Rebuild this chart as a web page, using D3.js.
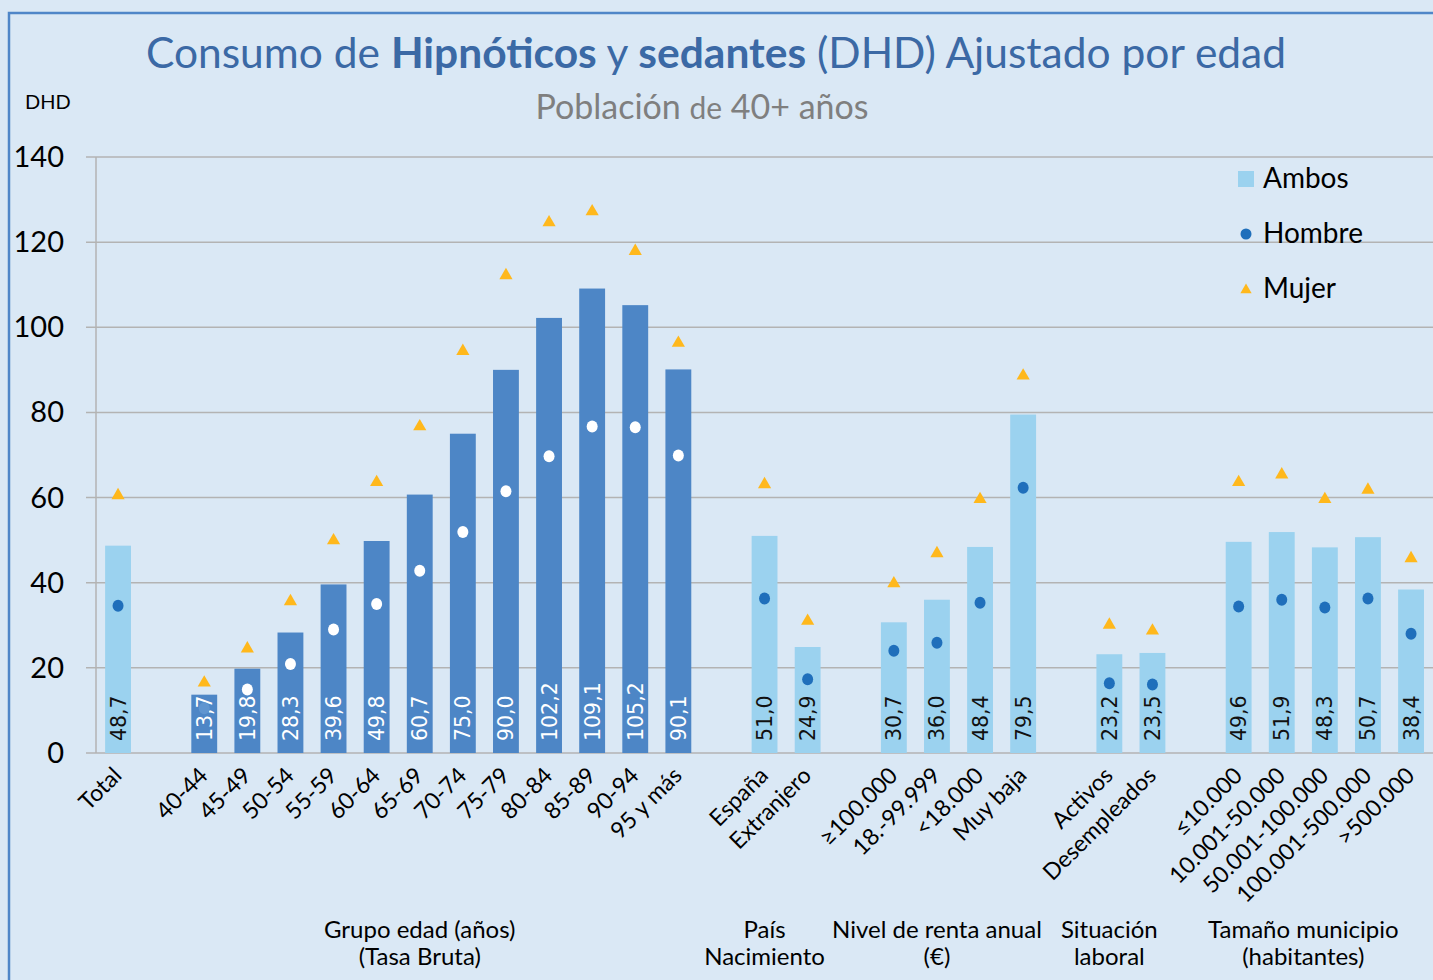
<!DOCTYPE html>
<html>
<head>
<meta charset="utf-8">
<script src="https://cdn.jsdelivr.net/npm/d3@7"></script>
<style>
  body { margin: 0; background: #dae8f5; }
  svg { display: block; font-family: Lato, "Open Sans", sans-serif; }
</style>
</head>
<body>
<svg id="chart" width="1433" height="980"></svg>
<script>
// categories, "" = empty slot between groups
var categories = ["Total", "",
  "40-44", "45-49", "50-54", "55-59", "60-64", "65-69", "70-74", "75-79", "80-84", "85-89", "90-94", "95 y más", "",
  "España", "Extranjero", "",
  "≥100.000", "18.-99.999", "<18.000", "Muy baja", "",
  "Activos", "Desempleados", "",
  "≤10.000", "10.001-50.000", "50.001-100.000", "100.001-500.000", ">500.000"];

var ambos = [48.7, null,
  13.7, 19.8, 28.3, 39.6, 49.8, 60.7, 75.0, 90.0, 102.2, 109.1, 105.2, 90.1, null,
  51.0, 24.9, null,
  30.7, 36.0, 48.4, 79.5, null,
  23.2, 23.5, null,
  49.6, 51.9, 48.3, 50.7, 38.4];

var hombre = [34.6, null,
  10.5, 14.9, 20.9, 29.0, 35.0, 42.8, 51.9, 61.5, 69.7, 76.7, 76.5, 69.9, null,
  36.3, 17.3, null,
  24.0, 25.9, 35.3, 62.3, null,
  16.4, 16.1, null,
  34.4, 36.0, 34.2, 36.3, 28.0];

var mujer = [60.5, null,
  16.5, 24.5, 35.6, 49.9, 63.6, 76.7, 94.4, 112.2, 124.6, 127.2, 117.9, 96.3, null,
  63.1, 31.0, null,
  39.8, 46.9, 59.6, 88.6, null,
  30.1, 28.7, null,
  63.6, 65.4, 59.6, 61.8, 45.7];

// age groups use raw rate (darker bars)
var isAge = categories.map(function (d, i) { return i >= 2 && i <= 13; });

var groups = [
  {lines: ["Grupo edad (años)", "(Tasa Bruta)"], from: 2, to: 13},
  {lines: ["País", "Nacimiento"], from: 15, to: 16},
  {lines: ["Nivel de renta anual", "(€)"], from: 18, to: 21},
  {lines: ["Situación", "laboral"], from: 23, to: 24},
  {lines: ["Tamaño municipio", "(habitantes)"], from: 26, to: 30}
];

var yTicks = [0, 20, 40, 60, 80, 100, 120, 140];

var svg = d3.select("#chart");

// frame
svg.append("rect").attr("width", 1433).attr("height", 980).attr("fill", "#dae8f5");
svg.append("path").attr("d", "M9,990 V13 H1440")
  .attr("fill", "none").attr("stroke", "#4f86c8").attr("stroke-width", 2.5);

var x = d3.scaleBand()
  .domain(d3.range(categories.length))
  .range([96.5, 96.5 + 43.1 * categories.length])
  .paddingInner(0.4).paddingOuter(0.2);

var y = d3.scaleLinear().domain([0, 140]).range([753, 157]);

// gridlines
svg.append("g").selectAll("line").data(yTicks).enter().append("line")
  .attr("x1", 86).attr("x2", 1433)
  .attr("y1", function (d) { return y(d); }).attr("y2", function (d) { return y(d); })
  .attr("stroke", "#b3b3b3").attr("stroke-width", 1.5);
svg.append("line").attr("x1", 96).attr("x2", 96).attr("y1", y(140)).attr("y2", y(0))
  .attr("stroke", "#b3b3b3").attr("stroke-width", 1.5);

svg.append("g").selectAll("text").data(yTicks).enter().append("text")
  .attr("x", 64).attr("y", function (d) { return y(d) + 10; })
  .attr("text-anchor", "end")
  .attr("font-size", 29).attr("fill", "#000")
  .text(function (d) { return d; });

svg.append("text").attr("x", 25).attr("y", 109).attr("font-size", 20).text("DHD");

// title
var title = svg.append("text").attr("x", 716).attr("y", 68).attr("text-anchor", "middle")
  .attr("font-size", 42.5).attr("fill", "#3b69a5");
title.append("tspan").text("Consumo de ");
title.append("tspan").attr("font-weight", "bold").text("Hipnóticos");
title.append("tspan").text(" y ");
title.append("tspan").attr("font-weight", "bold").text("sedantes");
title.append("tspan").text(" (DHD) Ajustado por edad");

var sub = svg.append("text").attr("x", 702).attr("y", 119).attr("text-anchor", "middle")
  .attr("font-size", 34).attr("fill", "#7f7f7f");
sub.append("tspan").text("Población ");
sub.append("tspan").attr("font-size", 30).text("de");
sub.append("tspan").text(" 40+ años");

// bars
var idx = d3.range(categories.length).filter(function (i) { return ambos[i] != null; });

svg.append("g").selectAll("rect").data(idx).enter().append("rect")
  .attr("x", function (i) { return x(i); })
  .attr("width", x.bandwidth())
  .attr("y", function (i) { return y(ambos[i]); })
  .attr("height", function (i) { return y(0) - y(ambos[i]); })
  .attr("fill", function (i) { return isAge[i] ? "#4d86c6" : "#9bd2ef"; });

// bar values
svg.append("g").selectAll("text").data(idx).enter().append("text")
  .attr("transform", function (i) {
    return "translate(" + (x(i) + x.bandwidth() / 2 + 7.5) + ",741) rotate(-90)";
  })
  .attr("font-family", "'DejaVu Sans', sans-serif")
  .attr("font-size", 20.5)
  .attr("fill", function (i) { return isAge[i] ? "#fff" : "#111"; })
  .text(function (i) { return d3.format(".1f")(ambos[i]).replace(".", ","); });

// hombre dots
svg.append("g").selectAll("ellipse").data(idx).enter().append("ellipse")
  .attr("cx", function (i) { return x(i) + x.bandwidth() / 2; })
  .attr("cy", function (i) { return y(hombre[i]); })
  .attr("rx", 5.5).attr("ry", 6)
  .attr("fill", function (i) {
    if (i === 2) return "#5f95d0";
    return isAge[i] ? "#fff" : "#1f6fbb";
  });

// mujer triangles
var tri = d3.symbol().type(d3.symbolTriangle).size(75);
svg.append("g").selectAll("path").data(idx).enter().append("path")
  .attr("d", tri)
  .attr("transform", function (i) {
    return "translate(" + (x(i) + x.bandwidth() / 2) + "," + y(mujer[i]) + ")";
  })
  .attr("fill", "#ffb81c");

// x labels
svg.append("g").selectAll("text").data(idx).enter().append("text")
  .attr("transform", function (i) {
    return "translate(" + (x(i) + x.bandwidth() / 2 + 5) + ",777) rotate(-45)";
  })
  .attr("text-anchor", "end")
  .attr("font-size", 23)
  .text(function (i) { return categories[i]; });

// group labels (Excel puts them half a slot to the left)
groups.forEach(function (g) {
  var cx = (x(g.from) + x(g.to) + x.bandwidth()) / 2 - x.step() / 2;
  g.lines.forEach(function (t, k) {
    svg.append("text").attr("x", cx).attr("y", 938 + k * 27)
      .attr("text-anchor", "middle").attr("font-size", 24).text(t);
  });
});

// legend
var lg = svg.append("g");
lg.append("rect").attr("x", 1238).attr("y", 171).attr("width", 16).attr("height", 16).attr("fill", "#9bd2ef");
lg.append("circle").attr("cx", 1246).attr("cy", 234).attr("r", 5.5).attr("fill", "#1f6fbb");
lg.append("path").attr("d", d3.symbol().type(d3.symbolTriangle).size(55))
  .attr("transform", "translate(1246,290)").attr("fill", "#ffb81c");
["Ambos", "Hombre", "Mujer"].forEach(function (t, k) {
  lg.append("text").attr("x", 1263).attr("y", 188 + k * 55).attr("font-size", 28).text(t);
});
</script>
</body>
</html>
